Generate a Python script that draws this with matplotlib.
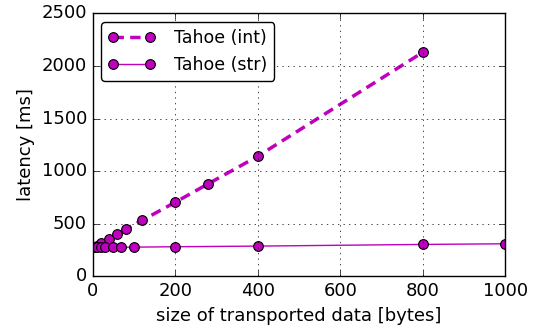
import matplotlib
matplotlib.use('Agg')
import matplotlib.pyplot as plt

# latency measurements, Tahoe integer vs string payloads
int_size = [1, 10, 20, 40, 60, 80, 120, 200, 280, 400, 800]
int_latency = [275, 290, 310, 352, 402, 446, 530, 702, 878, 1140, 2130]

str_size = [1, 5, 10, 20, 30, 50, 70, 100, 200, 400, 800, 1000]
str_latency = [272, 272, 273, 273, 273, 274, 274, 275, 279, 285, 301, 307]

plt.style.use('classic')
plt.rcParams['font.family'] = 'DejaVu Sans'

fig = plt.figure(figsize=(5.48, 3.29), dpi=100)
ax = fig.add_axes([0.169, 0.161, 0.753, 0.798])

ax.plot(int_size, int_latency, '--', color='m', linewidth=2.5, dashes=(7.5, 4.5),
        marker='o', markersize=7, markerfacecolor='m', markeredgecolor='k',
        markeredgewidth=0.8, label='Tahoe (int)')
ax.plot(str_size, str_latency, '-', color='m', linewidth=1, marker='o',
        markersize=7, markerfacecolor='m', markeredgecolor='k',
        markeredgewidth=0.8, label='Tahoe (str)')

ax.set_xlim(0, 1000)
ax.set_ylim(0, 2500)
ax.set_xticks([0, 200, 400, 600, 800, 1000])
ax.set_yticks([0, 500, 1000, 1500, 2000, 2500])
ax.tick_params(labelsize=13)
ax.grid(True, linestyle=':', color='k')

ax.set_xlabel('size of transported data [bytes]', fontsize=13)
ax.set_ylabel('latency [ms]', fontsize=13)

leg = ax.legend(loc='upper left', numpoints=2, fontsize=12.5, fancybox=True,
                handlelength=2.7, handletextpad=1.1, borderaxespad=0.5)

fig.savefig('out.png', dpi=100)
